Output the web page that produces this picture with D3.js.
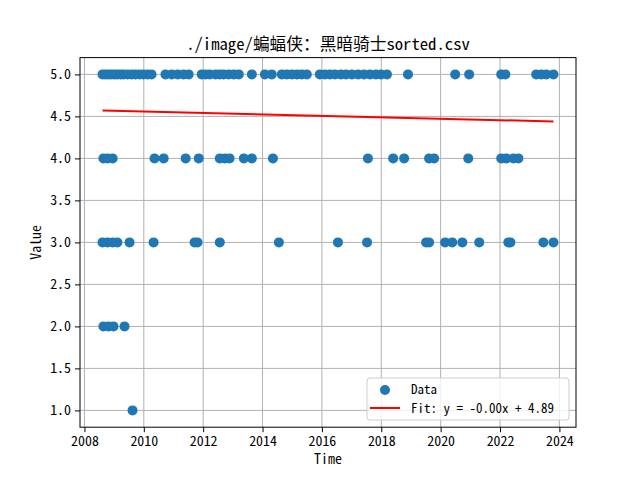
<!DOCTYPE html>
<html><head><meta charset="utf-8">
<script src="https://cdn.jsdelivr.net/npm/d3@7"></script>
<style>
html,body{margin:0;padding:0;background:#fff;}
text{font-family:"Noto Sans Mono CJK SC","Noto Sans CJK SC","DejaVu Sans Mono",monospace;}
</style></head>
<body>
<svg id="c" width="640" height="480"></svg>
<script>
const title = "./image/蝙蝠侠：黑暗骑士sorted.csv";
const xLabel = "Time";
const yLabel = "Value";
const xTicks = [2008, 2010, 2012, 2014, 2016, 2018, 2020, 2022, 2024];
const yTicks = [1.0, 1.5, 2.0, 2.5, 3.0, 3.5, 4.0, 4.5, 5.0];

// observation times (decimal years) per rating value
const times5 = [2008.61,2008.71,2008.81,2008.91,2009.01,2009.11,2009.22,2009.32,2009.45,2009.59,2009.72,2009.86,2009.99,2010.13,2010.26,
  2010.73,2010.94,2011.14,2011.34,2011.51,2011.95,2012.08,2012.22,2012.42,2012.56,2012.69,2012.86,2013.03,2013.20,2013.64,
  2014.08,2014.31,2014.65,2014.82,2014.99,2015.16,2015.32,2015.49,2015.93,2016.10,2016.27,2016.44,2016.64,2016.81,2017.01,
  2017.22,2017.42,2017.62,2017.82,2017.99,2018.19,2018.90,2020.49,2020.96,2022.04,2022.18,2023.22,2023.39,2023.56,2023.80];
const times4 = [2008.64,2008.78,2008.95,2010.36,2010.67,2011.41,2011.85,2012.56,2012.73,2012.89,2013.37,2013.64,2014.35,
  2017.55,2018.40,2018.77,2019.61,2019.78,2020.93,2022.04,2022.21,2022.45,2022.62];
const times3 = [2008.61,2008.78,2008.95,2009.11,2009.52,2010.33,2011.71,2011.81,2012.56,2014.55,2016.54,2017.52,
  2019.51,2019.61,2020.15,2020.39,2020.73,2021.30,2022.28,2022.35,2023.46,2023.80];
const times2 = [2008.64,2008.81,2008.98,2009.35];
const times1 = [2009.62];

const fitStart = 4.57, fitEnd = 4.44;
const legendLabels = ["Data", "Fit: y = -0.00x + 4.89"];

const points = [];
[[5,times5],[4,times4],[3,times3],[2,times2],[1,times1]].forEach(([v,ts]) => ts.forEach(t => points.push({t, v})));

const W=640,H=480, L=80, R=576, T=57.6, B=427.2;
const svg = d3.select("#c");
const tMin = d3.min(points,d=>d.t), tMax = d3.max(points,d=>d.t);
const pad = (tMax - tMin)*0.05;
const x = d3.scaleLinear().domain([tMin-pad, tMax+pad]).range([L,R]);
const y = d3.scaleLinear().domain([0.8, 5.2]).range([B,T]);

const grid = "#b0b0b0";
svg.append("g").selectAll("line").data(xTicks).join("line")
  .attr("x1",d=>x(d)).attr("x2",d=>x(d)).attr("y1",T).attr("y2",B)
  .attr("stroke",grid).attr("stroke-width",1);
svg.append("g").selectAll("line").data(yTicks).join("line")
  .attr("y1",d=>y(d)).attr("y2",d=>y(d)).attr("x1",L).attr("x2",R)
  .attr("stroke",grid).attr("stroke-width",1);

svg.append("g").selectAll("circle").data(points).join("circle")
  .attr("cx",d=>x(d.t)).attr("cy",d=>y(d.v)).attr("r",5)
  .attr("fill","#1f77b4");

svg.append("line").attr("x1",x(tMin)).attr("y1",y(fitStart)).attr("x2",x(tMax)).attr("y2",y(fitEnd))
  .attr("stroke","red").attr("stroke-width",2);

const fs = 13.9;
const xa = svg.append("g").attr("transform",`translate(0,${B})`)
  .call(d3.axisBottom(x).tickValues(xTicks).tickFormat(d3.format("d")).tickSize(5).tickPadding(4));
const ya = svg.append("g").attr("transform",`translate(${L},0)`)
  .call(d3.axisLeft(y).tickValues(yTicks).tickFormat(d3.format(".1f")).tickSize(5).tickPadding(4));
[xa,ya].forEach(a=>{
  a.select(".domain").remove();
  a.selectAll("line").attr("stroke","#000").attr("stroke-width",1);
  a.selectAll("text").attr("font-size",fs).attr("fill","#000")
   .style("font-family",'"Noto Sans Mono CJK SC","Noto Sans CJK SC","DejaVu Sans Mono",monospace');
});
svg.append("rect").attr("x",L).attr("y",T).attr("width",R-L).attr("height",B-T)
  .attr("fill","none").attr("stroke","#000").attr("stroke-width",1);

svg.append("text").attr("x",(L+R)/2).attr("y",50).attr("text-anchor","middle")
  .attr("font-size",16.7).text(title);
svg.append("text").attr("x",(L+R)/2).attr("y",464).attr("text-anchor","middle")
  .attr("font-size",fs).text(xLabel);
svg.append("text").attr("transform",`translate(41,${(T+B)/2}) rotate(-90)`).attr("text-anchor","middle")
  .attr("font-size",fs).text(yLabel);

const lg = svg.append("g");
lg.append("rect").attr("x",367).attr("y",378).attr("width",202).attr("height",42).attr("rx",3)
  .attr("fill","#fff").attr("fill-opacity",0.8).attr("stroke","#cccccc").attr("stroke-width",1);
lg.append("circle").attr("cx",385).attr("cy",390).attr("r",5).attr("fill","#1f77b4");
lg.append("line").attr("x1",370).attr("x2",400).attr("y1",408).attr("y2",408).attr("stroke","red").attr("stroke-width",2);
lg.append("text").attr("x",411).attr("y",389.5).attr("dy","0.35em").attr("font-size",13).text(legendLabels[0]);
lg.append("text").attr("x",411).attr("y",408.5).attr("dy","0.35em").attr("font-size",13).text(legendLabels[1]);
</script>
</body></html>
